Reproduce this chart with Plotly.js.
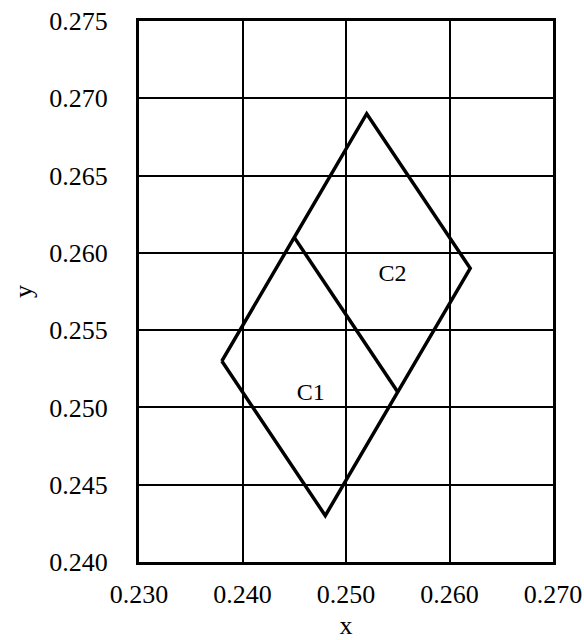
<!DOCTYPE html>
<html>
<head>
<meta charset="utf-8">
<script src="https://cdn.plot.ly/plotly-3.0.1.min.js"></script>
<style>html,body{margin:0;padding:0;background:#fff;}#chart{width:584px;height:640px;}</style>
</head>
<body>
<div id="chart"></div>
<script>
// outline path of the two regions
const outlineX = [0.238, 0.245, 0.252, 0.262, 0.255, 0.248, 0.238];
const outlineY = [0.253, 0.261, 0.269, 0.259, 0.251, 0.243, 0.253];
// shared boundary between C1 and C2
const dividerX = [0.245, 0.255];
const dividerY = [0.261, 0.251];
// region labels
const labelText = ["C1", "C2"];
const labelX = [0.2466, 0.2545];
const labelY = [0.2509, 0.2586];
const xTicks = [0.230, 0.240, 0.250, 0.260, 0.270];
const yTicks = [0.240, 0.245, 0.250, 0.255, 0.260, 0.265, 0.270, 0.275];

const font = "Liberation Serif";
const traces = [
  {x: outlineX, y: outlineY, mode: "lines", line: {color: "#000", width: 3.5}, hoverinfo: "skip"},
  {x: dividerX, y: dividerY, mode: "lines", line: {color: "#000", width: 3.5}, hoverinfo: "skip"},
  {x: labelX, y: labelY, text: labelText, mode: "text", textfont: {family: font, size: 24, color: "#000"}, hoverinfo: "skip"}
];
const layout = {
  width: 584, height: 640,
  margin: {l: 139, r: 31, t: 21, b: 78},
  showlegend: false,
  paper_bgcolor: "#fff", plot_bgcolor: "#fff",
  font: {family: font, size: 26, color: "#000"},
  xaxis: {
    range: [0.230, 0.270], tickvals: xTicks, ticktext: xTicks.map(v => v.toFixed(3)),
    tickfont: {family: font, size: 26, color: "#000"},
    showgrid: true, gridcolor: "#000", gridwidth: 2,
    showline: true, linecolor: "#000", linewidth: 3, mirror: true,
    zeroline: false, ticks: "", ticklabelstandoff: 7,
    title: {text: "x", font: {family: font, size: 26}, standoff: 8}
  },
  yaxis: {
    range: [0.240, 0.275], tickvals: yTicks, ticktext: yTicks.map(v => v.toFixed(3)),
    tickfont: {family: font, size: 26, color: "#000"},
    showgrid: true, gridcolor: "#000", gridwidth: 2,
    showline: true, linecolor: "#000", linewidth: 3, mirror: true,
    zeroline: false, ticks: "", ticklabelstandoff: 23,
    title: {text: "y", font: {family: font, size: 26}, standoff: 10}
  }
};
Plotly.newPlot("chart", traces, layout, {staticPlot: true});
</script>
</body>
</html>
